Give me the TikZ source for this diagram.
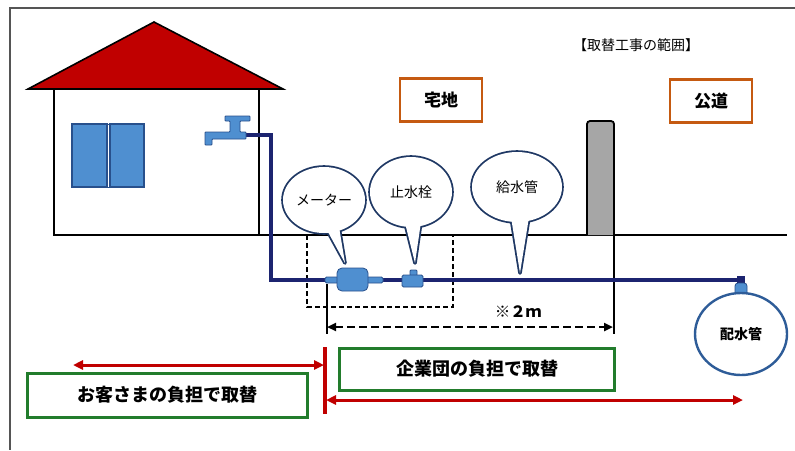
\documentclass[tikz,border=0pt]{standalone}
\usepackage{fontspec}
\newfontfamily\jp{Noto Sans CJK JP}
\usetikzlibrary{arrows.meta,shapes.geometric,calc}

\definecolor{roofred}{RGB}{192,0,0}
\definecolor{winblue}{RGB}{79,143,208}
\definecolor{windark}{RGB}{40,80,140}
\definecolor{pipenavy}{RGB}{28,36,112}
\definecolor{bubnavy}{RGB}{31,56,100}
\definecolor{postgray}{RGB}{166,166,166}
\definecolor{zoneorange}{RGB}{197,90,17}
\definecolor{boxgreen}{RGB}{34,124,44}
\definecolor{mainblue}{RGB}{46,92,152}
\definecolor{framegray}{RGB}{85,85,85}

\tikzset{
  frameline/.style={draw=framegray, line width=2pt},
  wall/.style={draw=black, line width=2.7pt},
  pipe/.style={draw=pipenavy, line width=4pt, line join=miter},
  fitting/.style={fill=winblue, draw=windark, line width=0.8pt, rounded corners=1.5pt},
  bubline/.style={draw=bubnavy, line width=3.6pt, line join=round},
  bubtext/.style={font=\jp\fontsize{14}{14}\selectfont, inner sep=0pt},
  zonebox/.style={draw=zoneorange, line width=2.8pt, fill=white,
    minimum width=82pt, minimum height=43pt, font=\jp\bfseries\fontsize{17}{17}\selectfont},
  costbox/.style={draw=boxgreen, line width=3pt, fill=white,
    font=\jp\bfseries\fontsize{18}{18}\selectfont},
  redarrow/.style={draw=roofred, line width=3pt,
    {Triangle[length=10pt,width=9pt]}-{Triangle[length=10pt,width=9pt]}},
  dimarrow/.style={draw=black, line width=2.6pt, dash pattern=on 8pt off 4pt,
    {Triangle[length=9pt,width=8pt]}-{Triangle[length=9pt,width=8pt]}},
}

% speech bubble: name, centre, x radius, y radius, tail base left, tail base right, tip, text
\newcommand{\callout}[8]{%
  \draw[bubline] (#2) ellipse [x radius=#3pt, y radius=#4pt];
  \draw[bubline] (#5) -- (#7) -- (#6);
  \fill[white] (#2) ellipse [x radius=#3pt, y radius=#4pt];
  \fill[white] (#5) -- (#7) -- (#6) -- cycle;
  \node[bubtext] (#1) at (#2) {#8};
}

\begin{document}
\begin{tikzpicture}[x=1pt, y=-1pt, font=\jp]
\useasboundingbox (0,0) rectangle (795,450);
\fill[white] (0,0) rectangle (795,450);

% outer frame (top and left edges)
\draw[frameline] (795,8) -- (10,8) -- (10,450);

% house
\fill[roofred] (28,89) -- (154,22) -- (283,89) -- cycle;
\draw[draw=black, line width=1.6pt, line join=miter] (28,89) -- (154,22) -- (283,89) -- cycle;
\draw[wall] (54,89) -- (54,235) -- (787,235);
\draw[wall] (259,89) -- (259,235);
\draw[wall] (54,89) -- (259,89);

% window
\fill[fill=winblue, draw=windark, line width=1.2pt] (72,124) rectangle (107,187);
\fill[fill=winblue, draw=windark, line width=1.2pt] (110,124) rectangle (144,187);
\draw[draw=windark, line width=1pt] (72,124) rectangle (144,187);

% boundary post
\draw[fill=postgray, draw=black, line width=1.8pt, rounded corners=3pt]
  (587,235) -- (587,121) -- (614,121) -- (614,235);
\draw[draw=black, line width=1.8pt] (614,235) -- (614,334);

% meter pit (dashed)
\draw[draw=black, line width=2pt, dash pattern=on 5pt off 3pt] (307,235) -- (307,307) -- (453,307) -- (453,235);

% service pipe from faucet to main
\coordinate (tapout) at (245,135);
\coordinate (riserTop) at (271,135);
\coordinate (riserBot) at (271,280);
\coordinate (mainTop) at (742,280);
\draw[pipe] (tapout) -- (riserTop) -- (riserBot) -- (mainTop);
\fill[pipenavy] (737,276) rectangle (745,284);

% faucet
\draw[fitting, rounded corners=0.8pt] (205,145) -- (205,132) -- (230,132) -- (230,121) -- (225,121) -- (225,116)
  -- (250,116) -- (250,121) -- (240,121) -- (240,132) -- (246,132) -- (246,139) -- (212,139) -- (212,145) -- cycle;

% water meter
\draw[fitting] (325,277) rectangle (383,283);
\draw[fitting, rounded corners=5pt] (337,268) rectangle (368,291);
% stop valve
\draw[fitting, rounded corners=1pt] (410,270) rectangle (417,276);
\draw[fitting] (402,275) rectangle (423,287);

% distribution main
\draw[fitting, rounded corners=3pt] (735,283) rectangle (747,295);
\node[ellipse, draw=mainblue, line width=2.4pt, fill=white, minimum width=92pt, minimum height=82pt,
  font=\jp\bfseries\fontsize{14}{14}\selectfont, inner sep=0pt] (main) at (741,334) {配水管};

% speech bubbles
\callout{meterlbl}{324,200}{41}{33}{322,221}{338,221}{345,263}{メーター}
\callout{valvelbl}{411,192}{41}{35}{403,215}{422,215}{415,263}{止水栓}
\callout{pipelbl}{517,187}{45}{35}{510,211}{530,211}{520,273}{給水管}

% 2 m dimension
\draw[draw=black, line width=1.8pt] (327,284) -- (327,334);
\node[font=\jp\bfseries\fontsize{15.5}{15.5}\selectfont, inner sep=0pt] (twom) at (518,312) {※２ｍ};
\coordinate (dimL) at (327,327);
\coordinate (dimR) at (613,327);
\draw[dimarrow] (dimL) -- (dimR);

% zone labels
\node[font=\jp\fontsize{14}{14}\selectfont, inner sep=0pt] (title) at (636,45) {【取替工事の範囲】};
\node[zonebox] (site) at (441,100) {宅地};
\node[zonebox] (road) at (711,101) {公道};

% cost split
\coordinate (splitTop) at (325,347);
\coordinate (splitBot) at (325,414);
\draw[draw=roofred, line width=3.4pt] (splitTop) -- (splitBot);
\coordinate (custL) at (73,365);
\coordinate (custR) at (324,365);
\draw[redarrow] (custL) -- (custR);
\coordinate (utilL) at (326,400);
\coordinate (utilR) at (743,400);
\draw[redarrow] (utilL) -- (utilR);

\node[costbox, minimum width=280pt, minimum height=44pt] (cust) at (167,395) {お客さまの負担で取替};
\node[costbox, minimum width=275pt, minimum height=42pt] (util) at (477,369) {企業団の負担で取替};
\end{tikzpicture}
\end{document}
